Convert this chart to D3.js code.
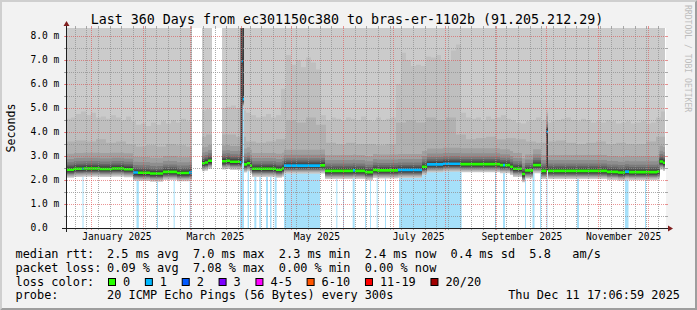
<!DOCTYPE html>
<html>
<head>
<meta charset="utf-8">
<script src="https://cdn.jsdelivr.net/npm/d3@7"></script>
<style>
body { margin: 0; background: #f2f2f2; }
text { font-family: "DejaVu Sans Mono", monospace; }
</style>
</head>
<body>
<div id="chart"></div>
<script>
// Datos
const endTime = Date.UTC(2025, 11, 11, 17, 6, 59)
const spanDays = 360

// median rtt steps: [day from start, ms (null = no data), loss index]
const medianSteps = [
    [0, 2.43, 0], [4.8, 2.47, 0], [9.9, 2.47, 1], [10.5, 2.48, 0], [20.4, 2.46, 0],
    [27.6, 2.48, 0], [34.8, 2.45, 0], [40.2, 2.31, 1], [43.2, 2.30, 0], [50.4, 2.27, 0],
    [58.2, 2.34, 0], [66.6, 2.29, 0], [73.8, 2.31, 1], [75.6, null, 0],
    [81.6, 2.70, 0], [83.4, 2.73, 0], [85.2, 2.80, 0], [87.6, null, 0],
    [93.6, 2.78, 0], [96.0, 2.80, 0], [98.4, 2.76, 0], [104.4, 2.74, 1], [105.3, 6.95, 1],
    [106.0, 5.37, 1], [106.8, 2.65, 0], [108.6, 2.70, 0], [110.4, 2.60, 0], [111.6, 2.47, 0],
    [122.4, 2.47, 0], [126.0, 2.43, 0], [129.6, 2.48, 0], [130.8, 2.60, 1], [152.4, 2.61, 0],
    [155.4, 2.38, 0], [172.2, 2.40, 1], [173.4, 2.38, 0], [179.4, 2.33, 0], [184.2, 2.42, 0],
    [186.6, 2.40, 0], [199.2, 2.42, 1], [213.6, 2.55, 0], [216.6, 2.65, 1], [226.2, 2.68, 1],
    [236.4, 2.66, 0], [260.4, 2.62, 0], [262.2, 2.62, 1], [263.4, 2.62, 0], [266.4, 2.55, 0],
    [268.2, 2.47, 0], [273.6, 2.25, 0], [275.4, 2.40, 0], [280.2, 2.62, 0], [285.0, 2.38, 0],
    [288.3, 4.00, 1], [289.2, 2.38, 0], [324.6, 2.34, 0], [331.2, 2.31, 0], [335.4, 2.35, 1],
    [337.8, 2.33, 0], [354.6, 2.35, 0], [356.1, 2.77, 0], [358.2, 2.72, 0], [359.4, null, 0]
]

// 2nd band upper edge, one value per 3 days
const ping19 = [
    4.55, 4.6, 4.75, 4.85, 4.7, 4.8, 4.6, 4.65, 4.55, 4.7, 4.6, 4.5, 4.65, 4.45, 4.3, 4.35,
    4.25, 4.4, 4.3, 4.45, 4.35, 4.5, 4.4, 4.55, 4.45, 4.4,
    4.6, 4.9, 4.95, 4.9, 4.9,
    5.0, 5.05, 5.1, 5.0, 4.9, 4.8, 4.7, 4.6, 4.65, 4.75, 4.6, 4.7,
    5.8, 7.2, 6.8, 7.0, 6.7, 7.1, 6.9, 6.6,
    4.7, 4.5, 4.6, 4.55, 4.5, 4.6, 4.55, 4.5, 4.65, 4.5, 4.45, 4.6, 4.5, 4.55, 4.6,
    6.0, 7.3, 7.0, 6.75, 6.8, 6.75, 7.15, 7.1, 7.2, 7.0, 6.95, 7.4, 7.65,
    4.8, 4.6, 4.55, 4.6, 4.5, 4.65, 4.55, 4.6, 4.7, 4.55, 4.5, 4.4, 4.35, 4.45, 4.5, 4.6,
    4.5, 4.4, 4.45, 4.5, 4.55, 4.6, 4.5, 4.45, 4.55, 4.5, 4.4, 4.45, 4.4, 4.5, 4.45, 4.35,
    4.4, 4.45, 4.35, 4.4, 4.45, 4.35, 4.4, 4.6, 4.85
]
// 3rd band upper edge, one value per 6 days
const ping18 = [
    3.6, 3.65, 3.6, 3.7, 3.55, 3.6, 3.5, 3.4, 3.45, 3.4, 3.5, 3.45, 3.4,
    3.8, 3.9, 3.9, 3.9, 3.8, 3.6, 3.55, 3.6, 3.7,
    4.5, 4.4, 4.6, 4.3,
    3.55, 3.5, 3.55, 3.5, 3.5, 3.45, 3.5,
    4.4, 4.5, 4.4, 4.6, 4.5, 4.6, 3.9,
    3.7, 3.75, 3.8, 3.7, 3.75, 3.7, 3.6, 3.55, 3.6, 3.65, 3.55, 3.5, 3.55, 3.6, 3.5, 3.55,
    3.5, 3.5, 3.6, 3.8
]
// typical spread of the ping pairs around the median (outer pair first)
const spreadAbove = [6.5, 0.9, 0.78, 0.66, 0.45, 0.31, 0.21, 0.14, 0.09, 0.05]
const spreadBelow = [0.34, 0.3, 0.27, 0.24, 0.21, 0.18, 0.15, 0.12, 0.09, 0.06]

// spikes: [from day, to day, low ms, high ms]
const spikes = [[104.7, 105.9, 2.7, 9.0], [105.9, 106.8, 5.4, 9.0], [288.2, 289.2, 2.4, 4.15]]

// loss periods: [day, length in days]
const lossBars = [
    [9.9, 0.6], [42.3, 1.4], [54.6, 0.6], [64.6, 0.6], [74.2, 0.6], [104.4, 2.4], [109.0, 0.8],
    [113.0, 1.2], [116.0, 0.9], [120.0, 1.2], [122.4, 0.9], [125.2, 1.2], [130.8, 21.6],
    [162.2, 0.6], [166.2, 0.6], [172.0, 1.2], [179.4, 0.6], [182.4, 0.6], [186.4, 0.6],
    [191.4, 0.6], [199.8, 37.6], [257.4, 0.6], [262.2, 1.2], [275.4, 0.6], [279.9, 1.2],
    [284.4, 0.6], [288.3, 0.6], [306.6, 1.2], [335.4, 2.1], [347.4, 0.6]
]

const yTicks = [0, 1, 2, 3, 4, 5, 6, 7, 8]
const yTickLabels = ["0.0", "1.0 m", "2.0 m", "3.0 m", "4.0 m", "5.0 m", "6.0 m", "7.0 m", "8.0 m"]
const xLabelMonths = ["2025-01", "2025-03", "2025-05", "2025-07", "2025-09", "2025-11"]
const xLabels = ["January 2025", "March 2025", "May 2025", "July 2025", "September 2025", "November 2025"]

const lossLabels = ["0", "1", "2", "3", "4-5", "6-10", "11-19", "20/20"]
const lossColors = ["#26ff00", "#00b8ff", "#0059ff", "#7e00ff", "#ff00ff", "#ff5500", "#ff0000", "#a10000"]
const rttStats = ["2.5 ms avg", "7.0 ms max", "2.3 ms min", "2.4 ms now", "0.4 ms sd", "5.8   am/s"]
const lossStats = ["0.09 % avg", "7.08 % max", "0.00 % min", "0.00 % now"]

//Constantes
const width = 697
const height = 310
const plot = { left: 66, right: 666, top: 28, bottom: 228 }
const smokeGreys = ["#cbcbcb", "#bfbfbf", "#b1b1b1", "#a0a0a0", "#8e8e8e", "#7a7a7a", "#656565", "#525252", "#424242", "#343434"]
const dayMs = 864e5
const startTime = endTime - spanDays * dayMs

const svg = d3.select("#chart").append("svg")
    .attr("width", width)
    .attr("height", height)

// fondo y marco
svg.append("rect").attr("width", width).attr("height", height).attr("fill", "#f2f2f2")
svg.append("path").attr("fill", "#cfcfcf")
    .attr("d", `M0,${height} L2,${height - 2} L2,2 L${width - 2},2 L${width},0 L0,0 Z`)
svg.append("path").attr("fill", "#9e9e9e")
    .attr("d", `M2,${height - 2} L${width - 2},${height - 2} L${width - 2},2 L${width},0 L${width},${height} L0,${height} Z`)

//Escalas
const x = d3.scaleUtc().domain([new Date(startTime), new Date(endTime)]).range([plot.left, plot.right])
const y = d3.scaleLinear().domain([0, 200 / 24]).range([plot.bottom, plot.top])
const xd = d => x(new Date(startTime + d * dayMs))

svg.append("rect").attr("x", plot.left).attr("y", plot.top)
    .attr("width", plot.right - plot.left).attr("height", plot.bottom - plot.top).attr("fill", "#ffffff")

svg.append("clipPath").attr("id", "clip").append("rect")
    .attr("x", plot.left).attr("y", plot.top)
    .attr("width", plot.right - plot.left).attr("height", plot.bottom - plot.top)
const graph = svg.append("g").attr("clip-path", "url(#clip)")

// columnas: cortes de la mediana y de los arrays de humo
const cuts = new Set(medianSteps.map(s => s[0]))
ping19.forEach((v, i) => cuts.add(i * 3))
ping18.forEach((v, i) => cuts.add(i * 6))
cuts.add(spanDays)
const days = [...cuts].sort((a, b) => a - b)
const stepAt = d => {
    let s = medianSteps[0]
    for (const m of medianSteps) { if (m[0] <= d + 1e-9) s = m; else break }
    return s
}
const cols = []
for (let i = 0; i < days.length - 1; i++) {
    const s = stepAt(days[i])
    const c = { a: days[i], b: days[i + 1], med: s[1], loss: s[2] }
    if (c.med != null) {
        c.top = []; c.bot = []
        for (let k = 9; k >= 0; k--) {
            let t = c.med + spreadAbove[k]
            if (k === 1) t = Math.max(t, ping19[Math.min(ping19.length - 1, Math.floor(c.a / 3))])
            if (k === 2) t = Math.max(t, ping18[Math.min(ping18.length - 1, Math.floor(c.a / 6))])
            c.top[k] = k === 9 ? t : Math.max(t, c.top[k + 1])
            c.bot[k] = c.med - spreadBelow[k]
        }
    }
    cols.push(c)
}

// perdidas
graph.selectAll(".lossbar")
    .data(lossBars)
    .enter().append("rect")
    .attr("class", "lossbar")
    .attr("x", d => xd(d[0]))
    .attr("width", d => Math.max(1, xd(d[0] + d[1]) - xd(d[0])))
    .attr("y", plot.top)
    .attr("height", plot.bottom - plot.top)
    .attr("fill", "#a6e0fa")

// humo
const area = d3.area()
    .defined(p => p.def)
    .x(p => xd(p.d))
    .y0(p => p.y0)
    .y1(p => p.y1)

smokeGreys.forEach((grey, k) => {
    const pts = []
    cols.forEach(c => {
        const def = c.med != null
        pts.push({ d: c.a, def, y0: def ? y(c.bot[k]) : 0, y1: def ? y(c.top[k]) : 0 })
        pts.push({ d: c.b, def, y0: def ? y(c.bot[k]) : 0, y1: def ? y(c.top[k]) : 0 })
    })
    graph.append("path").attr("d", area(pts)).attr("fill", grey)
})

graph.selectAll(".spike")
    .data(spikes)
    .enter().append("rect")
    .attr("class", "spike")
    .attr("x", d => xd(d[0]))
    .attr("width", d => xd(d[1]) - xd(d[0]))
    .attr("y", d => y(d[3]))
    .attr("height", d => y(d[2]) - y(d[3]))
    .attr("fill", "#3a3a3a")

// mediana coloreada por perdida
lossColors.forEach((color, idx) => {
    const pts = []
    cols.forEach(c => {
        const def = c.med != null && c.loss === idx
        const ym = def ? y(c.med) : 0
        pts.push({ d: c.a, def, y0: ym + 1.3, y1: ym - 1.3 })
        pts.push({ d: c.b, def, y0: ym + 1.3, y1: ym - 1.3 })
    })
    if (pts.some(p => p.def)) graph.append("path").attr("d", area(pts)).attr("fill", color)
})

// rejilla
const grid = svg.append("g").attr("fill", "none")
const minorCol = "rgba(143,143,143,0.75)"
const majorCol = "rgba(222,79,79,0.6)"
const hLine = (v, col) => {
    const yy = Math.round(y(v)) + 0.5
    grid.append("line").attr("x1", plot.left - 2).attr("x2", plot.left).attr("y1", yy).attr("y2", yy).attr("stroke", col)
    grid.append("line").attr("x1", plot.right).attr("x2", plot.right + 2).attr("y1", yy).attr("y2", yy).attr("stroke", col)
    grid.append("line").attr("x1", plot.left - 1).attr("x2", plot.right + 1).attr("y1", yy).attr("y2", yy)
        .attr("stroke", col).attr("stroke-dasharray", "1,1")
}
const vLine = (t, col) => {
    const xx = Math.round(x(t)) + 0.5
    grid.append("line").attr("x1", xx).attr("x2", xx).attr("y1", plot.top - 2).attr("y2", plot.top).attr("stroke", col)
    grid.append("line").attr("x1", xx).attr("x2", xx).attr("y1", plot.bottom).attr("y2", plot.bottom + 2).attr("stroke", col)
    grid.append("line").attr("x1", xx).attr("x2", xx).attr("y1", plot.top).attr("y2", plot.bottom)
        .attr("stroke", col).attr("stroke-dasharray", "1,1")
}
for (let v = 0.5; v < y.domain()[1]; v += 1) hLine(v, minorCol)
const months = d3.utcMonth.range(new Date(startTime), new Date(endTime))
d3.utcSunday.range(new Date(startTime), new Date(endTime))
    .filter(t => !months.some(m => Math.round(x(m)) === Math.round(x(t))))
    .forEach(t => vLine(t, minorCol))
yTicks.forEach(v => hLine(v, majorCol))
months.forEach(t => vLine(t, majorCol))

// ejes
const axisCol = "#1f1f1f"
svg.append("line").attr("x1", plot.left - 4).attr("x2", plot.right + 4)
    .attr("y1", plot.bottom + 0.5).attr("y2", plot.bottom + 0.5).attr("stroke", axisCol)
svg.append("line").attr("x1", plot.left + 0.5).attr("x2", plot.left + 0.5)
    .attr("y1", plot.bottom + 4).attr("y2", plot.top - 4).attr("stroke", axisCol)
svg.append("path").attr("fill", "#801f1f")
    .attr("d", `M${plot.right + 2},${plot.bottom - 2.5} L${plot.right + 2},${plot.bottom + 3.5} L${plot.right + 7},${plot.bottom + 0.5} Z`)
svg.append("path").attr("fill", "#801f1f")
    .attr("d", `M${plot.left - 2.5},${plot.top - 2} L${plot.left + 3.5},${plot.top - 2} L${plot.left + 0.5},${plot.top - 7} Z`)

// etiquetas
svg.selectAll(".ylab")
    .data(yTicks)
    .enter().append("text")
    .attr("class", "ylab")
    .attr("x", 30.5)
    .attr("y", d => y(d))
    .attr("dy", "0.36em")
    .style("font-size", "9.6px")
    .text((d, i) => yTickLabels[i])

svg.selectAll(".xlab")
    .data(xLabelMonths)
    .enter().append("text")
    .attr("class", "xlab")
    .attr("x", d => x(new Date(Date.parse(d + "-01T00:00:00Z") + 15.3 * dayMs)))
    .attr("y", 240)
    .attr("text-anchor", "middle")
    .style("font-size", "9.6px")
    .text((d, i) => xLabels[i])

svg.append("text")
    .attr("x", 347).attr("y", 24)
    .attr("text-anchor", "middle")
    .style("font-size", "13.3px")
    .text("Last 360 Days from ec301150c380 to bras-er-1102b (91.205.212.29)")

svg.append("text")
    .attr("transform", `translate(15, 128) rotate(-90)`)
    .attr("text-anchor", "middle")
    .style("font-size", "11.6px")
    .text("Seconds")

svg.append("text")
    .attr("transform", `translate(684.5, 5) rotate(90)`)
    .style("font-size", "8.1px")
    .attr("fill", "#bdbdbd")
    .text("RRDTOOL / TOBI OETIKER")

// leyenda
const legendFont = "11.9px"
const charW = 7.16
const legendRow = (yy, label, value) => {
    svg.append("text").attr("x", 15.5).attr("y", yy).style("font-size", legendFont).text(label)
    if (value) svg.append("text").attr("x", 107).attr("y", yy).style("font-size", legendFont)
        .style("white-space", "pre").text(value)
}
legendRow(258, "median rtt:", rttStats.join("  "))
legendRow(271.8, "packet loss:", lossStats.join("  "))
legendRow(285.6, "loss color:", null)
legendRow(299.4, "probe:", "20 ICMP Echo Pings (56 Bytes) every 300s")
svg.append("text").attr("x", 680).attr("y", 299.4).attr("text-anchor", "end")
    .style("font-size", legendFont).text("Thu Dec 11 17:06:59 2025")

let bx = 108
lossLabels.forEach((lab, i) => {
    svg.append("rect").attr("x", bx + 0.5).attr("y", 278.5).attr("width", 7).attr("height", 7)
        .attr("fill", lossColors[i]).attr("stroke", "#000")
    svg.append("text").attr("x", bx + 15).attr("y", 285.6).style("font-size", legendFont).text(lab)
    bx = bx + 15 + lab.length * charW + 14.7
})
</script>
</body>
</html>
